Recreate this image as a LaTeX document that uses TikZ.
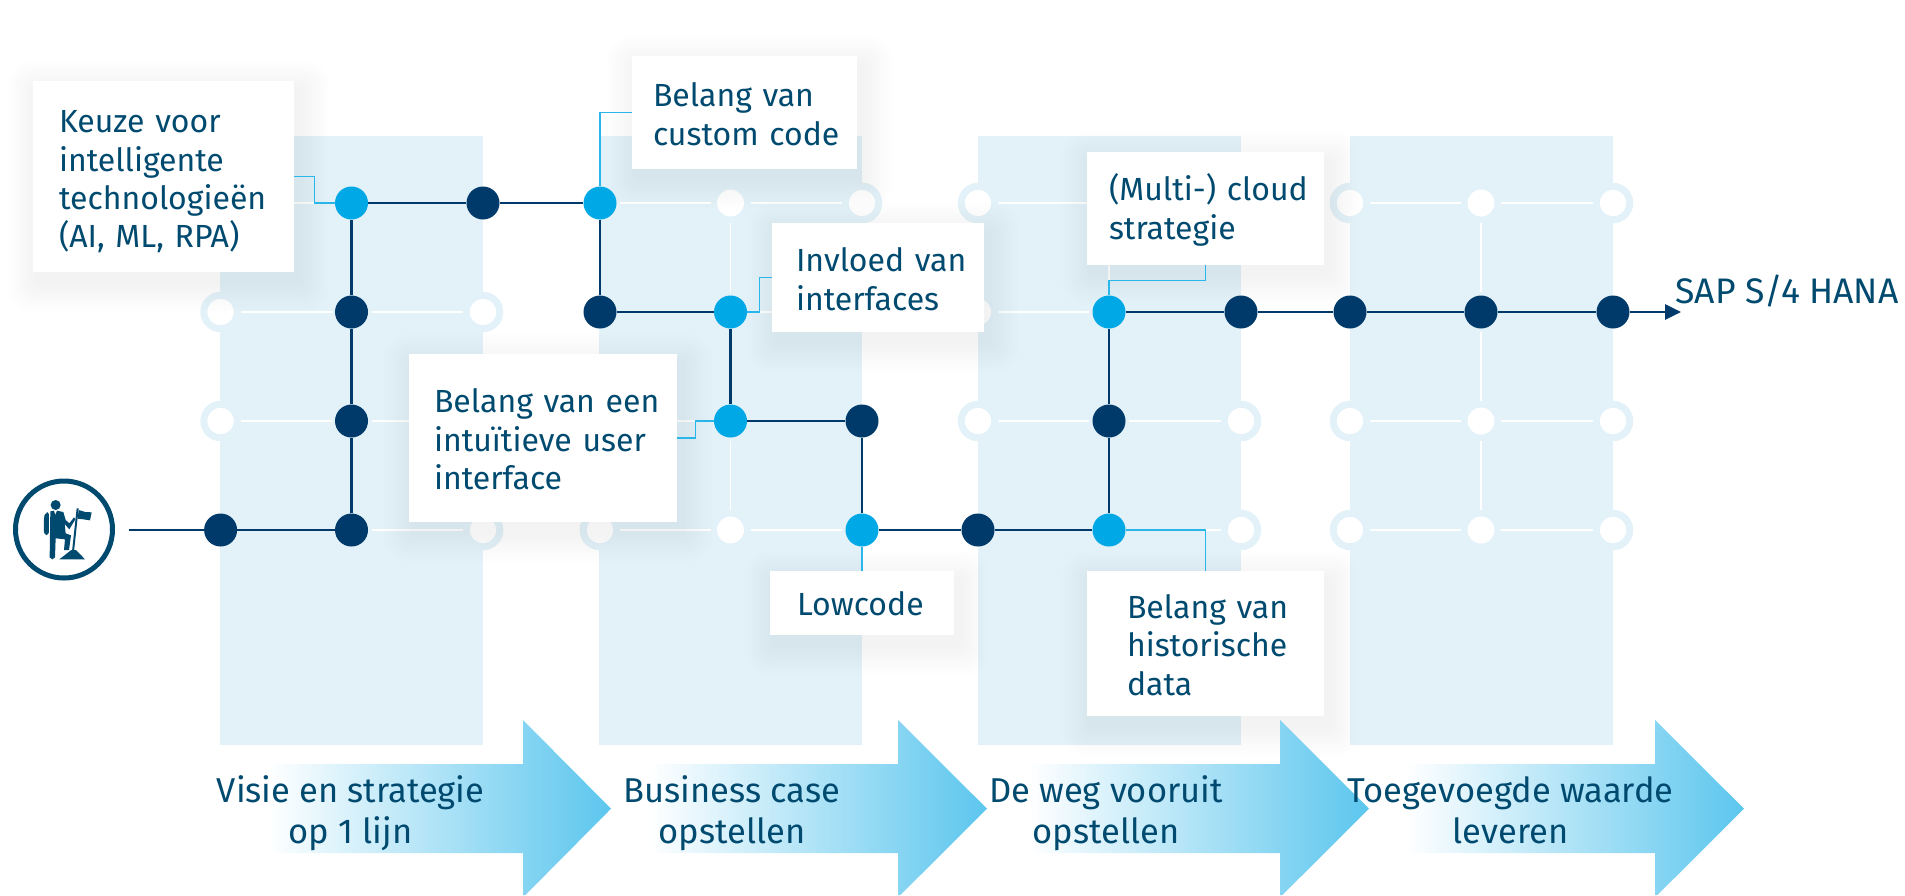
\documentclass[tikz,border=0pt]{standalone}
\usepackage{fontspec}
\setmainfont{Fira Sans}
\usetikzlibrary{calc,arrows.meta}
\pgfdeclarelayer{kback}
\pgfsetlayers{kback,main}
\definecolor{kband}{HTML}{E3F1F9}
\definecolor{kink}{HTML}{004A70}
\definecolor{kdeep}{HTML}{003A6B}
\definecolor{ksky}{HTML}{00A8E6}
\definecolor{kleadc}{HTML}{29B6EA}
\definecolor{ktip}{HTML}{5CC6EE}
\tikzset{
  ktext/.style={text=kink,font=\fontsize{32}{38.4}\selectfont},
  kbox/.style n args={3}{ktext,fill=white,inner sep=0pt,align=left,minimum width=#1,minimum height=#2,text width=#1,execute at begin node={\leftskip=#3pt\relax},execute at end node={\par\vspace{-3pt}}},
  kdark/.style={circle,fill=kdeep,inner sep=0pt,minimum size=33},
  klight/.style={circle,fill=ksky,inner sep=0pt,minimum size=33},
  kring/.style={circle,draw=kband,line width=7,fill=white,inner sep=0pt,minimum size=33.5},
  kspot/.style={circle,fill=white,inner sep=0pt,minimum size=27},
  kgrid/.style={white,line width=1.2,shorten >=20,shorten <=20},
  kwire/.style={draw=kdeep,line width=2.6},
  kleader/.style={draw=kleadc,line width=1.4},
  klabel/.style={text=kink,font=\fontsize{34.5}{41}\selectfont,align=center,anchor=base}
}
\begin{document}
\begin{tikzpicture}[x=1pt,y=-1pt]
\useasboundingbox (0,0) rectangle (1905,895);
\foreach \kx/\x in {0/220.6,1/351.5,2/483,3/600,4/730.5,5/862,6/978,7/1109,8/1241,9/1350,10/1481,11/1613}{\foreach \ky/\y in {a/203,b/312,c/421,d/530}{\coordinate(\ky\kx) at (\x,\y);}}
\begin{pgfonlayer}{kback}
\foreach \x in {220,599,978,1350}{\fill[kband](\x,136)rectangle++(263,609);}
\foreach \ky in {a,b,c,d}{\foreach \kx/\kn in {0/1,1/2,3/4,4/5,6/7,7/8,9/10,10/11}{\draw[kgrid](\ky\kx)--(\ky\kn);}}
\foreach \kx in {1,4,7,10}{\foreach \ky/\kn in {a/b,b/c,c/d}{\draw[kgrid](\ky\kx)--(\kn\kx);}}
\foreach \kn in {a0,a5,a6,a8,a9,a11,b0,b2,b5,b6,c0,c2,c3,c6,c8,c9,c11,d2,d3,d8,d9,d11}{\node[kring](g\kn) at (\kn){};}
\foreach \kn in {a4,d4,a7,a10,c10,d10}{\node[kspot](g\kn) at (\kn){};}
\end{pgfonlayer}
\foreach \kname/\kstart/\kbase/\ktip in {one/268/523/611,two/649/898/987,three/1029/1280/1369,four/1406/1655/1744}{\shade[left color=white,right color=ktip](\kstart,764)--(\kbase,764)--(\kbase,720)--(\ktip,808.7)--(\kbase+2.4,895)--(\kbase,895)--(\kbase,853)--(\kstart,853)--cycle;}
\node[kbox={261}{191}{26},execute at end node={\par\vspace{-8pt}}](boxk) at (163.5,176.5){Keuze voor\\intelligente\\technologieën\\(AI, ML, RPA)};
\node[kbox={225}{113}{21}](boxc) at (744.5,112.5){Belang van\\custom code};
\node[kbox={212}{109}{24}](boxi) at (878,277.5){Invloed van\\interfaces};
\node[kbox={268}{168}{25}](boxu) at (543,438){Belang van een\\intuïtieve user\\interface};
\node[kbox={237}{113}{22}](boxm) at (1205.5,208.5){(Multi-) cloud\\strategie};
\node[kbox={184}{64}{27}](boxl) at (862,603){Lowcode};
\node[kbox={237}{145}{40}](boxh) at (1205.5,643.5){Belang van\\historische\\data};
\begin{pgfonlayer}{kback}
\foreach \kb in {boxk,boxc,boxi,boxu,boxm,boxl,boxh}{\foreach \ks in {1,...,12}{\fill[black,opacity=0.005,rounded corners=\ks*2]($(\kb.north west)+(5-\ks*2.5,10-\ks*2.5)$)rectangle($(\kb.south east)+(5+\ks*2.5,10+\ks*2.5)$);}}
\end{pgfonlayer}
\foreach \kn in {d0,d1,c1,b1,a2,b3,c5,d6,c7,b8,b9,b10,b11}{\node[kdark](p\kn) at (\kn){};}
\foreach \kn in {a1,a3,b4,c4,d5,d7,b7}{\node[klight](p\kn) at (\kn){};}
\coordinate(kstart) at (129,530);
\coordinate(kend) at (1681,312);
\draw[kwire,-{Triangle[length=16,width=15]}](kstart)--(pd0)--(pd1)--(pc1)--(pb1)--(pa1)--(pa2)--(pa3)--(pb3)--(pb4)--(pc4)--(pc5)--(pd5)--(pd6)--(pd7)--(pc7)--(pb7)--(pb8)--(pb9)--(pb10)--(pb11)--(kend);
\draw[kleader](boxk.east)--++(20,0)|-(pa1);
\draw[kleader](boxc.west)-|(pa3);
\draw[kleader](boxi.west)--++(-12.5,0)|-(pb4);
\draw[kleader](boxu.east)--++(18,0)|-(pc4);
\draw[kleader](boxm.south)--++(0,15)-|(pb7);
\draw[kleader](boxl.north)--(pd5);
\draw[kleader](boxh.north)|-(pd7);
\node[klabel,anchor=base west,font=\fontsize{35.5}{41}\selectfont](ksap) at (1672,303){SAP S/4 HANA};
\node[klabel](kla) at (350.6,843){Visie en strategie\\op 1 lijn};
\node[klabel](klb) at (732,843){Business case\\opstellen};
\node[klabel](klc) at (1106,843){De weg vooruit\\opstellen};
\node[klabel](kld) at (1510.5,843){Toegevoegde waarde\\leveren};
\node[circle,draw=kink,line width=5,inner sep=0pt,minimum size=97](kman) at (64,529.5){};
\begin{scope}[shift={(0,470)},x=0.3333pt,y=-0.3333pt,kink]
\fill(167,105)circle(15);
\fill[rounded corners=3](136,130)--(147,125)--(147,195)--(132,195)--(132,140)--cycle;
\fill(151,124)--(162,122)--(166,135)--(171,122)--(190,126)--(197,150)--(208,160)--(222,142)--(226,148)--(208,178)--(194,162)--(197,190)--(213,196)--(207,240)--(192,240)--(195,208)--(167,205)--(165,262)--(157,268)--(149,262)--cycle;
\fill(230,115)--(236,115)--(222,245)--(216,245)--cycle;
\fill(236,120)--(256,126)--(275,127)--(270,151)--(250,148)--(233,146)--cycle;
\fill(178,268)--(214,240)--(228,240)--(255,268)--cycle;
\end{scope}
\end{tikzpicture}
\end{document}
